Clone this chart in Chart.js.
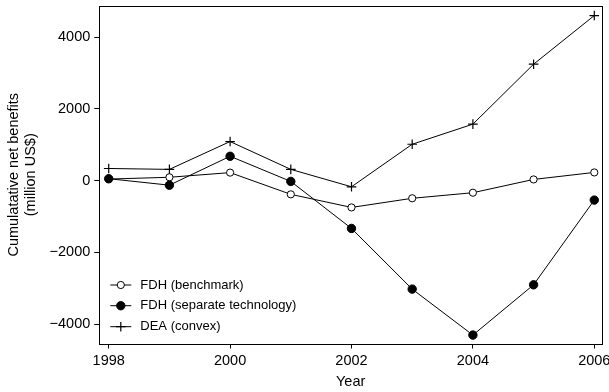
<!DOCTYPE html>
<html>
<head>
<meta charset="utf-8">
<script src="https://cdn.jsdelivr.net/npm/chart.js@4"></script>
<style>
  html, body { margin: 0; padding: 0; background: #fff; }
  #wrap { width: 609px; height: 392px; }
</style>
</head>
<body>
<div id="wrap"><canvas id="chart" width="609" height="392"></canvas></div>
<script>
const years = [1998, 1999, 2000, 2001, 2002, 2003, 2004, 2005, 2006];
const fdhBenchmark = [45, 95, 225, -380, -745, -490, -335, 35, 230];
const fdhSeparate = [55, -125, 680, -20, -1330, -3020, -4300, -2900, -540];
const deaConvex = [340, 315, 1090, 315, -170, 1015, 1575, 3245, 4600];

const xTicks = [1998, 2000, 2002, 2004, 2006];
const yTicks = [-4000, -2000, 0, 2000, 4000];
const seriesLabels = ['FDH (benchmark)', 'FDH (separate technology)', 'DEA (convex)'];

const FONT = "'Liberation Sans', Arial, Helvetica, sans-serif";

function pts(vals) {
  return years.map((y, i) => ({ x: y, y: vals[i] }));
}

// box around the plot area
const framePlugin = {
  id: 'frame',
  afterDraw(chart) {
    const { ctx, chartArea: a } = chart;
    ctx.save();
    ctx.strokeStyle = '#000';
    ctx.lineWidth = 1;
    ctx.strokeRect(Math.round(a.left) + 0.5, Math.round(a.top) + 0.5,
      Math.round(a.right - a.left), Math.round(a.bottom - a.top));
    ctx.restore();
  }
};

// legend drawn inside the plot, bottom-left
const insideLegend = {
  id: 'insideLegend',
  afterDraw(chart) {
    const { ctx, chartArea: a } = chart;
    const rowsFromBottom = [58.5, 37.8, 16.8];
    ctx.save();
    ctx.font = '13px ' + FONT;
    ctx.textBaseline = 'middle';
    chart.data.datasets.forEach((ds, i) => {
      const y = a.bottom - rowsFromBottom[i];
      const x0 = a.left + 11;
      ctx.strokeStyle = '#000';
      ctx.lineWidth = 1;
      ctx.beginPath();
      ctx.moveTo(x0, y);
      ctx.lineTo(x0 + 21, y);
      ctx.stroke();
      ctx.fillStyle = ds.pointBackgroundColor;
      ctx.lineWidth = ds.pointBorderWidth;
      Chart.helpers.drawPoint(ctx, {
        pointStyle: ds.pointStyle,
        radius: ds.pointRadius,
        borderWidth: ds.pointBorderWidth,
        rotation: 0
      }, x0 + 10.5, y);
      ctx.fillStyle = '#000';
      ctx.fillText(ds.label, x0 + 30, y);
    });
    ctx.restore();
  }
};

const axisGrid = {
  display: true,
  drawOnChartArea: false,
  drawTicks: true,
  tickLength: 5,
  tickColor: '#000',
  tickWidth: 1
};

new Chart(document.getElementById('chart'), {
  type: 'line',
  data: {
    datasets: [
      {
        label: seriesLabels[0],
        data: pts(fdhBenchmark),
        borderColor: '#000',
        borderWidth: 1,
        pointStyle: 'circle',
        pointRadius: 3.6,
        pointBackgroundColor: '#fff',
        pointBorderColor: '#000',
        pointBorderWidth: 1,
        order: 1
      },
      {
        label: seriesLabels[1],
        data: pts(fdhSeparate),
        borderColor: '#000',
        borderWidth: 1,
        pointStyle: 'circle',
        pointRadius: 4.2,
        pointBackgroundColor: '#000',
        pointBorderColor: '#000',
        pointBorderWidth: 1,
        order: 0
      },
      {
        label: seriesLabels[2],
        data: pts(deaConvex),
        borderColor: '#000',
        borderWidth: 1,
        pointStyle: 'cross',
        pointRadius: 4.8,
        pointBackgroundColor: '#000',
        pointBorderColor: '#000',
        pointBorderWidth: 1.2,
        order: 2
      }
    ]
  },
  options: {
    responsive: false,
    animation: false,
    events: [],
    layout: { padding: { top: 6, right: 7, left: 0, bottom: 0 } },
    plugins: {
      legend: { display: false },
      tooltip: { enabled: false }
    },
    scales: {
      x: {
        type: 'linear',
        min: 1997.845,
        max: 2006.127,
        afterBuildTicks: s => { s.ticks = xTicks.map(v => ({ value: v })); },
        afterFit: s => { s.height = 48.5; s.paddingLeft = 0; s.paddingRight = 0; },
        grid: axisGrid,
        border: { display: false },
        ticks: {
          color: '#000',
          font: { family: FONT, size: 14.5 },
          padding: 4,
          maxRotation: 0,
          autoSkip: false,
          callback: v => String(v)
        },
        title: {
          display: true,
          text: 'Year',
          color: '#000',
          font: { family: FONT, size: 14.5 },
          padding: { top: 0, bottom: 1 }
        }
      },
      y: {
        type: 'linear',
        min: -4535,
        max: 4866,
        afterBuildTicks: s => { s.ticks = yTicks.map(v => ({ value: v })); },
        afterFit: s => { s.width = 99.3; s.paddingTop = 0; s.paddingBottom = 0; },
        grid: axisGrid,
        border: { display: false },
        ticks: {
          color: '#000',
          font: { family: FONT, size: 14.5 },
          padding: 4,
          autoSkip: false,
          callback: v => String(v).replace('-', '\u2212')
        },
        title: {
          display: true,
          text: ['Cumulatative net benefits', '(million US$)'],
          color: '#000',
          font: { family: FONT, size: 14.5, lineHeight: 1.2 },
          padding: { top: 5.3, bottom: 0 }
        }
      }
    }
  },
  plugins: [framePlugin, insideLegend]
});
</script>
</body>
</html>
